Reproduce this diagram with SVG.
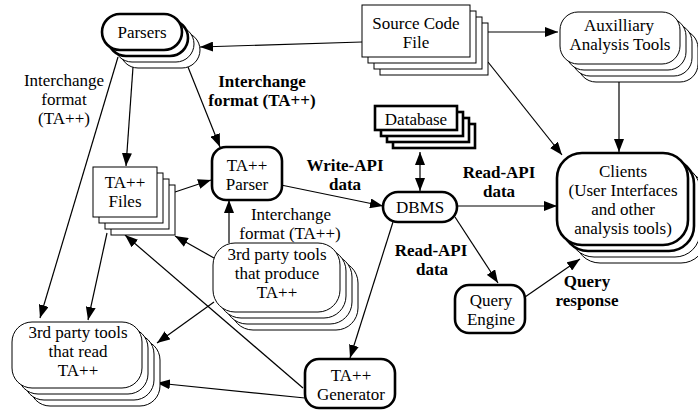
<svg xmlns="http://www.w3.org/2000/svg" width="698" height="411" viewBox="0 0 698 411">
  <style>
    .lbl { font-family: "Liberation Serif", "Times New Roman", serif; font-size: 17px; fill: #000; text-anchor: middle; }
    .bold { font-weight: bold; }
    .thin { fill: #fff; stroke: #000; stroke-width: 1; }
    .thick { fill: #fff; stroke: #000; stroke-width: 2.6; }
    .conn { fill: none; stroke: #000; stroke-width: 1.2; }
  </style>
  <defs>
    <marker id="arrow" markerUnits="userSpaceOnUse" markerWidth="14" markerHeight="10" refX="13" refY="5" orient="auto-start-reverse">
      <path d="M0,0 L13,5 L0,10 z" fill="#000"/>
    </marker>
  </defs>

  <rect width="698" height="411" fill="#fff"/>

  <!-- connectors -->
  <g id="connectors">
    <line class="conn" x1="362" y1="42" x2="200" y2="47" marker-end="url(#arrow)"/>
    <line class="conn" x1="488" y1="32" x2="558" y2="32" marker-end="url(#arrow)"/>
    <line class="conn" x1="488" y1="62" x2="562" y2="155" marker-end="url(#arrow)"/>
    <line class="conn" x1="619" y1="82" x2="619" y2="152" marker-end="url(#arrow)"/>
    <line class="conn" x1="457" y1="206" x2="557" y2="206" marker-end="url(#arrow)"/>
    <line class="conn" x1="420" y1="152" x2="420" y2="191" marker-start="url(#arrow)" marker-end="url(#arrow)"/>
    <line class="conn" x1="281" y1="185" x2="383" y2="206" marker-end="url(#arrow)"/>
    <line class="conn" x1="188" y1="67" x2="220" y2="147" marker-end="url(#arrow)"/>
    <line class="conn" x1="133" y1="67" x2="126" y2="166" marker-end="url(#arrow)"/>
    <line class="conn" x1="118" y1="57" x2="40" y2="318" marker-end="url(#arrow)"/>
    <line class="conn" x1="107" y1="233" x2="88" y2="320" marker-end="url(#arrow)"/>
    <line class="conn" x1="175" y1="192" x2="211" y2="180" marker-end="url(#arrow)"/>
    <line class="conn" x1="214" y1="258" x2="175" y2="236" marker-end="url(#arrow)"/>
    <line class="conn" x1="229" y1="243" x2="229" y2="200" marker-end="url(#arrow)"/>
    <line class="conn" x1="303" y1="388" x2="125" y2="235" marker-end="url(#arrow)"/>
    <line class="conn" x1="305" y1="398" x2="157" y2="383" marker-end="url(#arrow)"/>
    <line class="conn" x1="214" y1="302" x2="157" y2="343" marker-end="url(#arrow)"/>
    <line class="conn" x1="393" y1="222" x2="350" y2="358" marker-end="url(#arrow)"/>
    <line class="conn" x1="455" y1="217" x2="498" y2="283" marker-end="url(#arrow)"/>
    <line class="conn" x1="525" y1="297" x2="580" y2="259" marker-end="url(#arrow)"/>
  </g>

  <!-- connector labels -->
  <g id="edge-labels">
    <text class="lbl" x="64" y="86">Interchange</text>
    <text class="lbl" x="64" y="105">format</text>
    <text class="lbl" x="64" y="124">(TA++)</text>
    <text class="lbl bold" x="262" y="86.5">Interchange</text>
    <text class="lbl bold" x="262" y="105.5">format (TA++)</text>
    <text class="lbl bold" x="345" y="170.5">Write-API</text>
    <text class="lbl bold" x="345" y="189.5">data</text>
    <text class="lbl bold" x="499" y="177.5">Read-API</text>
    <text class="lbl bold" x="499" y="196.5">data</text>
    <text class="lbl" x="291" y="219.5">Interchange</text>
    <text class="lbl" x="290" y="238.5">format (TA++)</text>
    <text class="lbl bold" x="431" y="255.5">Read-API</text>
    <text class="lbl bold" x="432" y="274.5">data</text>
    <text class="lbl bold" x="587" y="286.5">Query</text>
    <text class="lbl bold" x="587" y="305.5">response</text>
  </g>

  <!-- nodes -->
  <g id="parsers">
    <rect class="thin" x="120" y="32" width="80" height="36" rx="18"/>
    <rect class="thin" x="114" y="26" width="80" height="36" rx="18"/>
    <rect class="thick" x="108" y="20" width="80" height="36" rx="18"/>
    <rect class="thick" x="102" y="14" width="80" height="36" rx="18"/>
    <text class="lbl" x="142" y="38">Parsers</text>
  </g>

  <g id="source-code-file">
    <rect class="thin" x="380" y="23" width="108" height="52"/>
    <rect class="thin" x="374" y="17" width="108" height="52"/>
    <rect class="thin" x="368" y="11" width="108" height="52"/>
    <rect class="thin" x="362" y="5" width="108" height="52"/>
    <text class="lbl" x="416" y="28.5">Source Code</text>
    <text class="lbl" x="416" y="47.5">File</text>
  </g>

  <g id="auxilliary-tools">
    <rect class="thin" x="578" y="30" width="120" height="52" rx="18"/>
    <rect class="thin" x="572" y="24" width="120" height="52" rx="18"/>
    <rect class="thin" x="566" y="18" width="120" height="52" rx="18"/>
    <rect class="thin" x="560" y="12" width="120" height="52" rx="18"/>
    <text class="lbl" x="619" y="30.5">Auxilliary</text>
    <text class="lbl" x="620" y="49.5">Analysis Tools</text>
  </g>

  <g id="database">
    <rect class="thick" x="393" y="124" width="82" height="24"/>
    <rect class="thick" x="387" y="118" width="82" height="24"/>
    <rect class="thick" x="381" y="112" width="82" height="24"/>
    <rect class="thick" x="375" y="106" width="82" height="24"/>
    <text class="lbl" x="416" y="124.5">Database</text>
  </g>

  <g id="dbms">
    <rect class="thick" x="383" y="192" width="74" height="30" rx="15"/>
    <text class="lbl" x="420" y="213">DBMS</text>
  </g>

  <g id="clients">
    <rect class="thin" x="575" y="171" width="131" height="92" rx="25"/>
    <rect class="thin" x="569" y="165" width="131" height="92" rx="25"/>
    <rect class="thick" x="563" y="159" width="131" height="92" rx="25"/>
    <rect class="thick" x="557" y="153" width="131" height="92" rx="25"/>
    <text class="lbl" x="623" y="176.5">Clients</text>
    <text class="lbl" x="623" y="195.5">(User Interfaces</text>
    <text class="lbl" x="623" y="214.5">and other</text>
    <text class="lbl" x="623" y="233.5">analysis tools)</text>
  </g>

  <g id="ta-files">
    <rect class="thin" x="111" y="185" width="64" height="50"/>
    <rect class="thin" x="105" y="179" width="64" height="50"/>
    <rect class="thin" x="99" y="173" width="64" height="50"/>
    <rect class="thin" x="93" y="167" width="64" height="50"/>
    <text class="lbl" x="125" y="187.5">TA++</text>
    <text class="lbl" x="125" y="206.5">Files</text>
  </g>

  <g id="ta-parser">
    <rect class="thick" x="212" y="147" width="70" height="53" rx="14"/>
    <text class="lbl" x="247" y="170.5">TA++</text>
    <text class="lbl" x="247" y="189.5">Parser</text>
  </g>

  <g id="producers">
    <rect class="thin" x="231" y="261" width="127" height="69" rx="22"/>
    <rect class="thin" x="225" y="255" width="127" height="69" rx="22"/>
    <rect class="thin" x="219" y="249" width="127" height="69" rx="22"/>
    <rect class="thin" x="213" y="243" width="127" height="69" rx="22"/>
    <text class="lbl" x="277" y="260">3rd party tools</text>
    <text class="lbl" x="277" y="279">that produce</text>
    <text class="lbl" x="277" y="298">TA++</text>
  </g>

  <g id="readers">
    <rect class="thin" x="30" y="340" width="130" height="66" rx="20"/>
    <rect class="thin" x="24" y="334" width="130" height="66" rx="20"/>
    <rect class="thin" x="18" y="328" width="130" height="66" rx="20"/>
    <rect class="thin" x="12" y="322" width="130" height="66" rx="20"/>
    <text class="lbl" x="78" y="338">3rd party tools</text>
    <text class="lbl" x="78" y="357">that read</text>
    <text class="lbl" x="78" y="376">TA++</text>
  </g>

  <g id="ta-generator">
    <rect class="thick" x="305" y="359" width="90" height="49" rx="14"/>
    <text class="lbl" x="351" y="380.5">TA++</text>
    <text class="lbl" x="351" y="399.5">Generator</text>
  </g>

  <g id="query-engine">
    <rect class="thick" x="455" y="285" width="70" height="48" rx="14"/>
    <text class="lbl" x="491" y="305.5">Query</text>
    <text class="lbl" x="491" y="324.5">Engine</text>
  </g>
</svg>
